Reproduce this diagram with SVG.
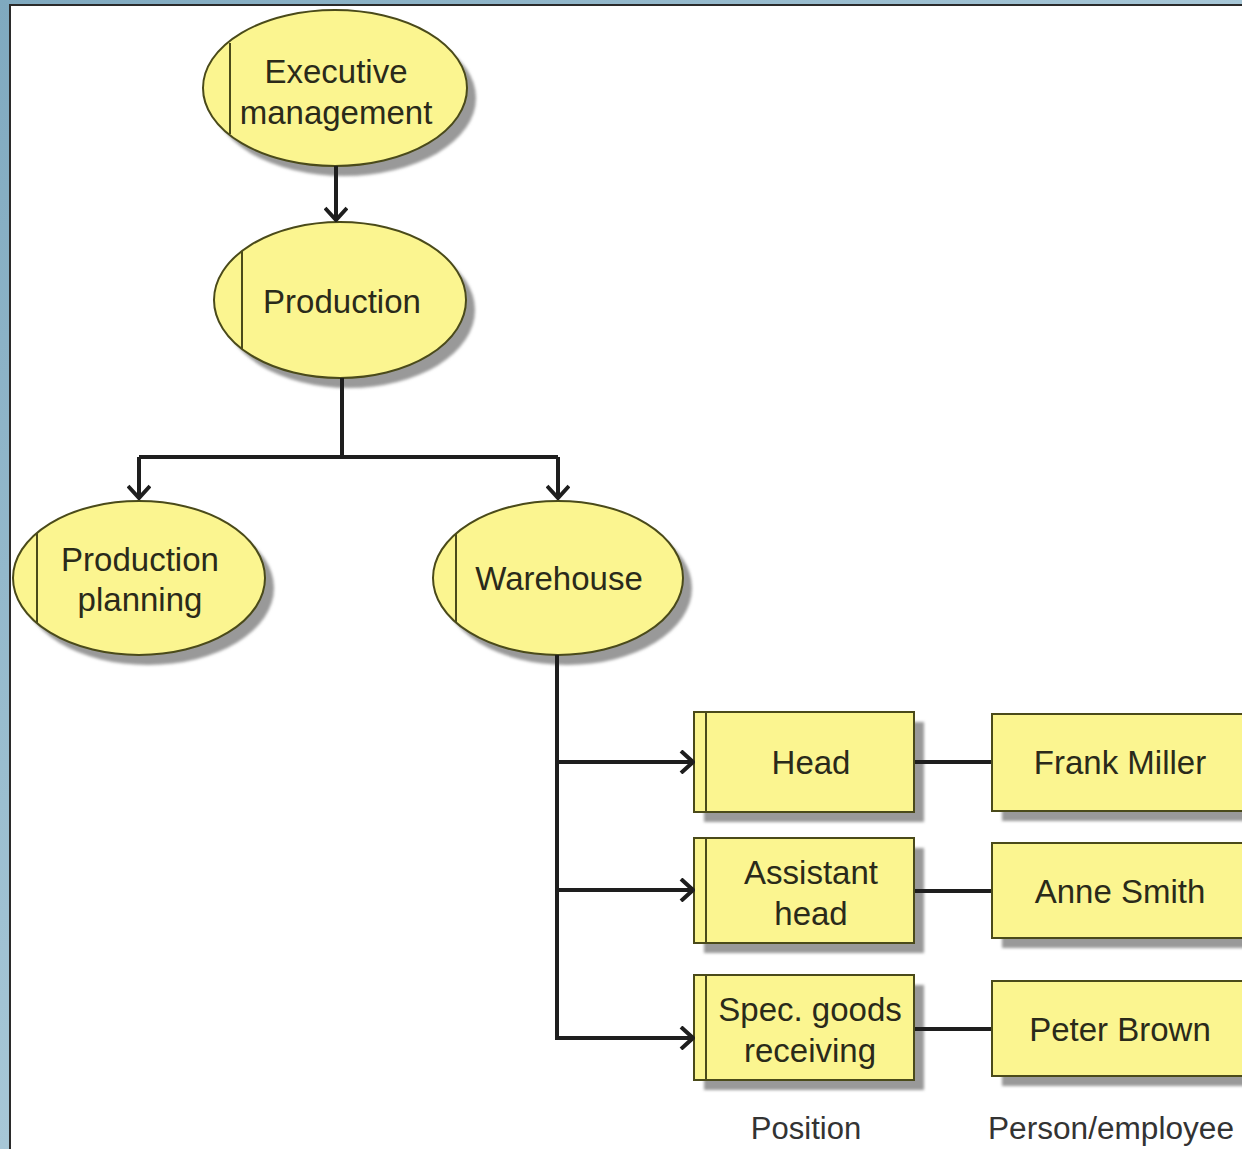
<svg xmlns="http://www.w3.org/2000/svg" width="1242" height="1149" viewBox="0 0 1242 1149">
  <style>
    .node { fill: #fbf590; stroke: #4a4a1a; stroke-width: 2; }
    .shadow { fill: #999999; }
    .div { stroke: #4a4a1a; stroke-width: 2; }
    .lbl { font-family: "Liberation Sans", Arial, sans-serif; font-size: 33px; fill: #2a2a1a; text-anchor: middle; }
    .cap { font-family: "Liberation Sans", Arial, sans-serif; font-size: 31px; fill: #333333; text-anchor: middle; }
    .wire { fill: none; stroke: #1e1e1e; stroke-width: 4; }
  </style>
  <defs>
    <linearGradient id="frameGrad" x1="0" y1="0" x2="1" y2="1">
      <stop offset="0" stop-color="#7fa9bf"/>
      <stop offset="0.5" stop-color="#a7c7d7"/>
      <stop offset="1" stop-color="#8fb5c9"/>
    </linearGradient>
    <filter id="soft" x="-10%" y="-10%" width="120%" height="120%">
      <feGaussianBlur stdDeviation="1.5"/>
    </filter>
    <marker id="arrow" viewBox="0 0 16 24" refX="14" refY="12" markerWidth="16" markerHeight="24" markerUnits="userSpaceOnUse" orient="auto">
      <path d="M2,1 L14,12 L2,23" fill="none" stroke="#1e1e1e" stroke-width="4"/>
    </marker>
  </defs>

  <!-- window frame and canvas -->
  <rect x="0" y="0" width="1242" height="1149" fill="url(#frameGrad)"/>
  <rect x="10" y="5" width="1240" height="1150" fill="#ffffff" stroke="#2b2b2b" stroke-width="2"/>

  <!-- organizational units -->
  <g id="executive-management">
    <ellipse class="shadow" cx="344" cy="98" rx="132" ry="78" filter="url(#soft)"/>
    <ellipse class="node" cx="335" cy="88" rx="132" ry="78"/>
    <line class="div" x1="230" y1="43" x2="230" y2="134"/>
    <text class="lbl" x="336" y="83">Executive</text>
    <text class="lbl" x="336" y="124">management</text>
  </g>

  <g id="production">
    <ellipse class="shadow" cx="349" cy="310" rx="126" ry="78" filter="url(#soft)"/>
    <ellipse class="node" cx="340" cy="300" rx="126" ry="78"/>
    <line class="div" x1="242" y1="251" x2="242" y2="349"/>
    <text class="lbl" x="342" y="313">Production</text>
  </g>

  <g id="production-planning">
    <ellipse class="shadow" cx="148" cy="588" rx="126" ry="77" filter="url(#soft)"/>
    <ellipse class="node" cx="139" cy="578" rx="126" ry="77"/>
    <line class="div" x1="37" y1="533" x2="37" y2="623"/>
    <text class="lbl" x="140" y="571">Production</text>
    <text class="lbl" x="140" y="611">planning</text>
  </g>

  <g id="warehouse">
    <ellipse class="shadow" cx="567" cy="588" rx="125" ry="77" filter="url(#soft)"/>
    <ellipse class="node" cx="558" cy="578" rx="125" ry="77"/>
    <line class="div" x1="456" y1="533" x2="456" y2="622"/>
    <text class="lbl" x="559" y="590">Warehouse</text>
  </g>

  <!-- positions -->
  <g id="head">
    <rect class="shadow" x="704" y="722" width="220" height="100" filter="url(#soft)"/>
    <rect class="node" x="694" y="712" width="220" height="100"/>
    <line class="div" x1="706" y1="712" x2="706" y2="812"/>
    <text class="lbl" x="811" y="774">Head</text>
  </g>

  <g id="assistant-head">
    <rect class="shadow" x="704" y="848" width="220" height="105" filter="url(#soft)"/>
    <rect class="node" x="694" y="838" width="220" height="105"/>
    <line class="div" x1="706" y1="838" x2="706" y2="943"/>
    <text class="lbl" x="811" y="884">Assistant</text>
    <text class="lbl" x="811" y="925">head</text>
  </g>

  <g id="spec-goods-receiving">
    <rect class="shadow" x="704" y="985" width="220" height="105" filter="url(#soft)"/>
    <rect class="node" x="694" y="975" width="220" height="105"/>
    <line class="div" x1="706" y1="975" x2="706" y2="1080"/>
    <text class="lbl" x="810" y="1021">Spec. goods</text>
    <text class="lbl" x="810" y="1062">receiving</text>
  </g>

  <!-- persons -->
  <g id="frank-miller">
    <rect class="shadow" x="1002" y="724" width="260" height="97" filter="url(#soft)"/>
    <rect class="node" x="992" y="714" width="260" height="97"/>
    <text class="lbl" x="1120" y="774">Frank Miller</text>
  </g>

  <g id="anne-smith">
    <rect class="shadow" x="1002" y="853" width="260" height="95" filter="url(#soft)"/>
    <rect class="node" x="992" y="843" width="260" height="95"/>
    <text class="lbl" x="1120" y="903">Anne Smith</text>
  </g>

  <g id="peter-brown">
    <rect class="shadow" x="1002" y="991" width="260" height="95" filter="url(#soft)"/>
    <rect class="node" x="992" y="981" width="260" height="95"/>
    <text class="lbl" x="1120" y="1041">Peter Brown</text>
  </g>

  <!-- connectors, drawn over the drop shadows -->
  <g id="connectors">
    <path class="wire" d="M336,166 L336,220" marker-end="url(#arrow)"/>
    <path class="wire" d="M342,378 L342,457"/>
    <path class="wire" d="M139,457 L558,457"/>
    <path class="wire" d="M139,457 L139,498" marker-end="url(#arrow)"/>
    <path class="wire" d="M558,457 L558,498" marker-end="url(#arrow)"/>
    <path class="wire" d="M557,655 L557,1040"/>
    <path class="wire" d="M557,762 L693,762" marker-end="url(#arrow)"/>
    <path class="wire" d="M557,890 L693,890" marker-end="url(#arrow)"/>
    <path class="wire" d="M557,1038 L693,1038" marker-end="url(#arrow)"/>
    <path class="wire" d="M915,762 L991,762"/>
    <path class="wire" d="M915,891 L991,891"/>
    <path class="wire" d="M915,1029 L991,1029"/>
  </g>

  <!-- column captions -->
  <text class="cap" x="806" y="1139">Position</text>
  <text class="cap" x="988" y="1139" style="text-anchor:start" textLength="246" lengthAdjust="spacingAndGlyphs">Person/employee</text>
</svg>
